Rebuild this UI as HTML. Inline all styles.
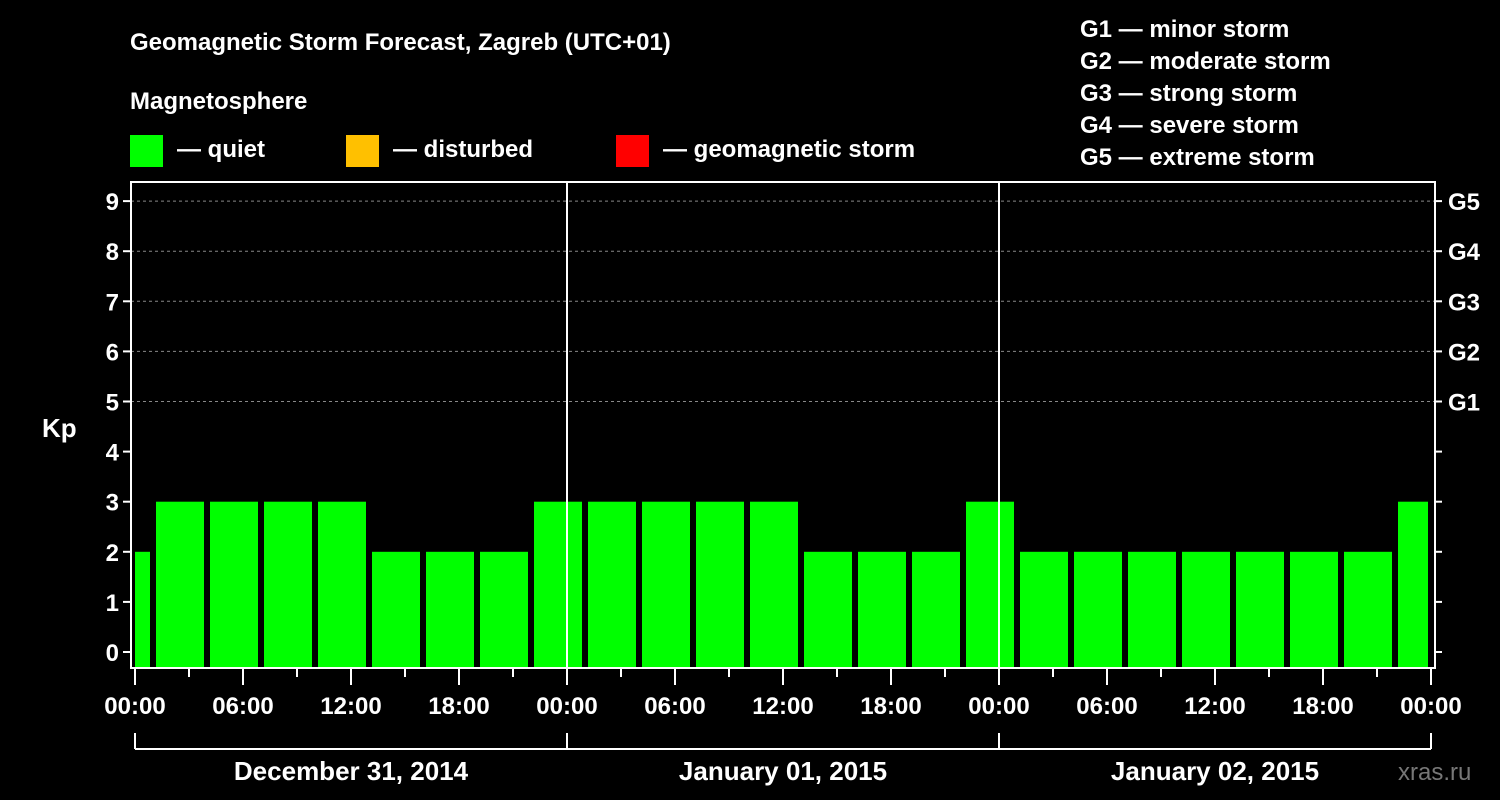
<!DOCTYPE html>
<html><head><meta charset="utf-8"><style>
body{margin:0;background:#000;}
svg{display:block;font-family:"Liberation Sans",sans-serif;font-weight:bold;}
</style></head><body>
<svg id="c" width="1500" height="800">
<rect width="1500" height="800" fill="#000"/>
<text x="130" y="50" fill="#fff" font-size="24">Geomagnetic Storm Forecast, Zagreb (UTC+01)</text>
<text x="130" y="109" fill="#fff" font-size="24">Magnetosphere</text>
<g><rect x="130" y="135" width="33" height="32" fill="#00ff00"/><text x="177" y="157" fill="#fff" font-size="24">— quiet</text></g>
<g><rect x="346" y="135" width="33" height="32" fill="#ffc000"/><text x="393" y="157" fill="#fff" font-size="24">— disturbed</text></g>
<g><rect x="616" y="135" width="33" height="32" fill="#ff0000"/><text x="663" y="157" fill="#fff" font-size="24">— geomagnetic storm</text></g>
<g fill="#fff" font-size="24">
<text x="1080" y="37">G1 — minor storm</text><text x="1080" y="69">G2 — moderate storm</text><text x="1080" y="101">G3 — strong storm</text><text x="1080" y="133">G4 — severe storm</text><text x="1080" y="165">G5 — extreme storm</text></g>
<text x="42" y="437" fill="#fff" font-size="26">Kp</text>
<text x="1398" y="780" fill="#777" font-size="24" font-weight="normal">xras.ru</text>
<g id="plot"></g>
</svg>
<script>
const kpValues=[2,3,3,3,3,2,2,2,3,3,3,3,3,2,2,2,3,2,2,2,2,2,2,2,3];
const startHour=-2;
const yTicks=[0,1,2,3,4,5,6,7,8,9];
const gLabels=["G1","G2","G3","G4","G5"];
const xLabels=["00:00","06:00","12:00","18:00","00:00","06:00","12:00","18:00","00:00","06:00","12:00","18:00","00:00"];
const dayLabels=["December 31, 2014","January 01, 2015","January 02, 2015"];
const NS="http://www.w3.org/2000/svg";
const L=131,R=1435,T=182,B=668,X0=135,pxH=18;
const xs=h=>X0+h*pxH;
const ys=v=>652-v*50.1;
const g=document.getElementById('plot');
function mk(t,a,p){const e=document.createElementNS(NS,t);for(const k in a)e.setAttribute(k,a[k]);(p||g).appendChild(e);return e;}
yTicks.forEach(v=>{if(v>=5){const l=mk('line',{x1:L,x2:R,y1:ys(v),y2:ys(v),stroke:'#888','stroke-dasharray':'3,3','stroke-width':1});

}});
kpValues.forEach((v,i)=>{let a=xs(startHour+i*3)+3,b=xs(startHour+(i+1)*3)-3;a=Math.max(a,X0);b=Math.min(b,R-7);
const c=v>=5?'#ff0000':(v>=4?'#ffc000':'#00ff00');
const r=mk('rect',{x:a,y:ys(v),width:b-a,height:B-ys(v),fill:c});

});
[1,2].forEach(d=>{const l=mk('line',{x1:xs(d*24),x2:xs(d*24),y1:T,y2:B,stroke:'#fff','stroke-width':2});

});
const fr=mk('rect',{x:L,y:T,width:R-L,height:B-T,fill:'none',stroke:'#fff','stroke-width':2});


yTicks.forEach(v=>{mk('line',{x1:L-8,x2:L,y1:ys(v),y2:ys(v),stroke:'#fff','stroke-width':2});
mk('line',{x1:R,x2:R+7,y1:ys(v),y2:ys(v),stroke:'#fff','stroke-width':2});
const t=mk('text',{x:L-12,y:ys(v)+9,fill:'#fff','font-size':24,'text-anchor':'end'});t.textContent=v;

});
gLabels.forEach((s,i)=>{const t=mk('text',{x:1448,y:ys(5+i)+9,fill:'#fff','font-size':24});t.textContent=s;

});
for(let h=0;h<=72;h+=3){const big=h%6==0;mk('line',{x1:xs(h),x2:xs(h),y1:B,y2:B+(big?17:9),stroke:'#fff','stroke-width':2});}
xLabels.forEach((s,i)=>{const t=mk('text',{x:xs(i*6),y:714,fill:'#fff','font-size':24,'text-anchor':'middle'});t.textContent=s;

});
mk('line',{x1:xs(0),x2:xs(72),y1:749,y2:749,stroke:'#fff','stroke-width':2});
for(let d=0;d<=3;d++)mk('line',{x1:xs(d*24),x2:xs(d*24),y1:733,y2:749,stroke:'#fff','stroke-width':2});
dayLabels.forEach((s,i)=>{const t=mk('text',{x:xs(i*24+12),y:780,fill:'#fff','font-size':26,'text-anchor':'middle'});t.textContent=s;

});
</script>
</body></html>
